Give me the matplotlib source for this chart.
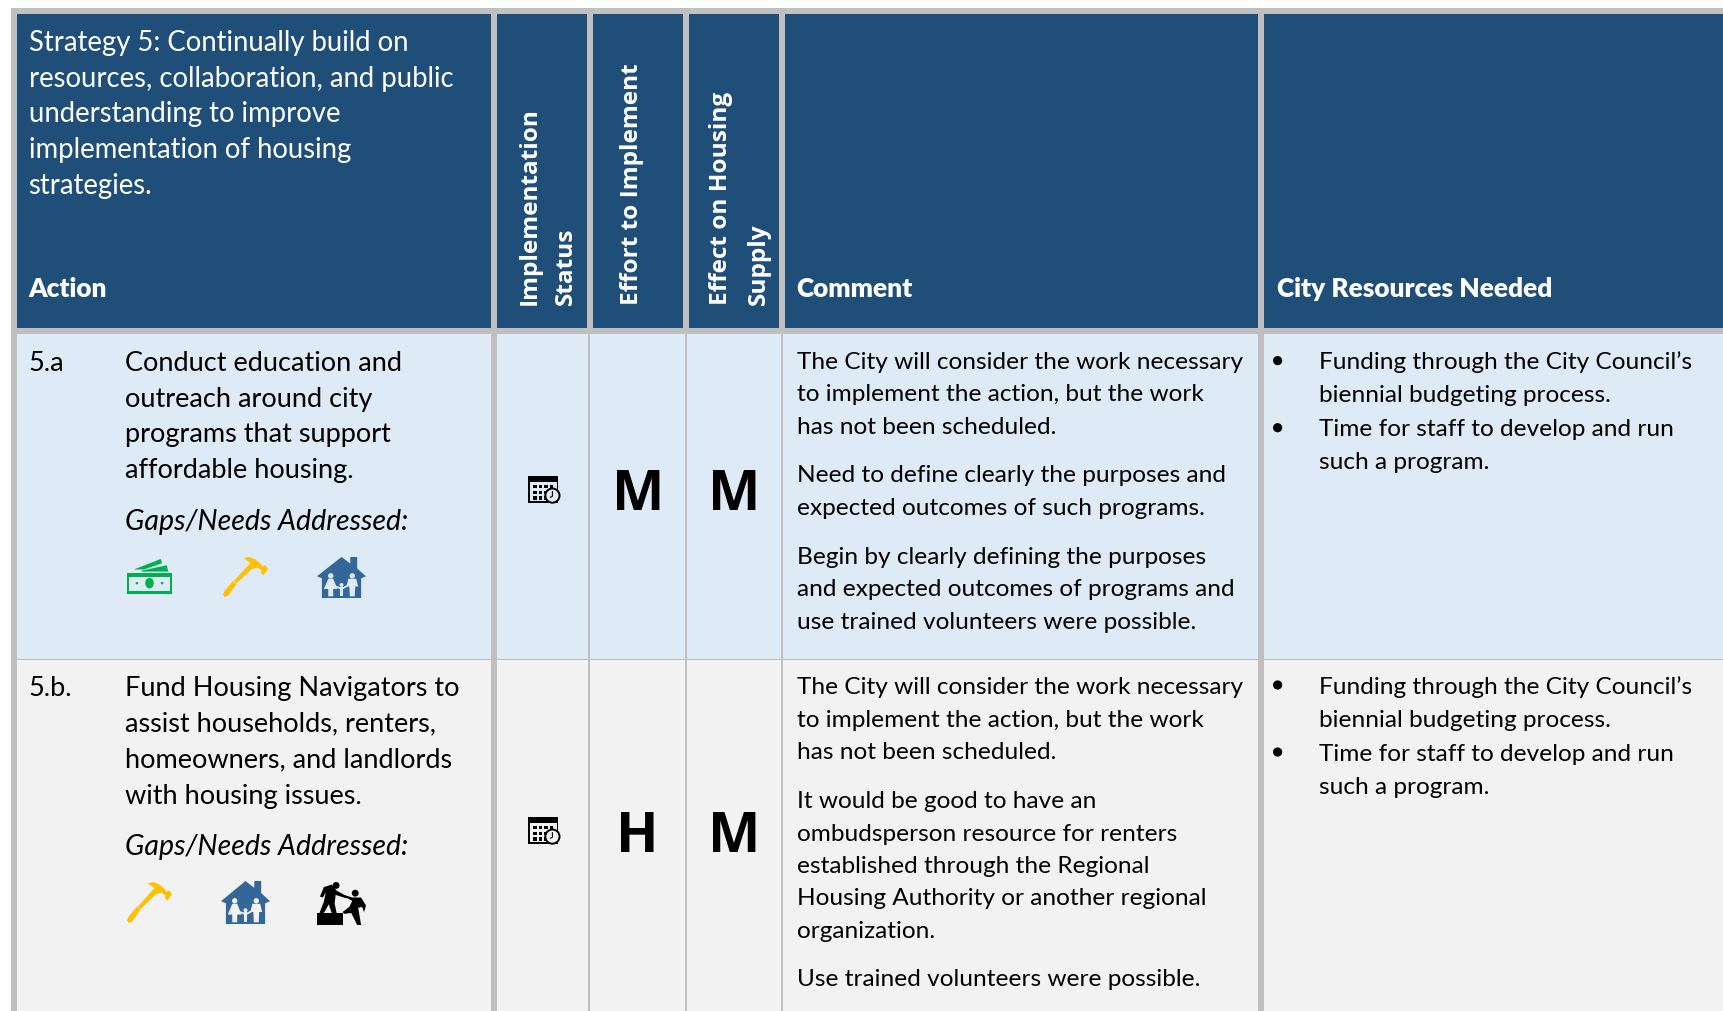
import matplotlib
matplotlib.use("Agg")
import matplotlib.pyplot as plt
from matplotlib.patches import Rectangle, Polygon, Circle, Ellipse

# ---- content ----
strategy_lines = ["Strategy 5: Continually build on", "resources, collaboration, and public",
                  "understanding to improve", "implementation of housing", "strategies."]
col_headers = ["Action", "Comment", "City Resources Needed"]
rot_headers = [("Implementation", 482), ("Status", 515), ("Effort to Implement", 575),
               ("Effect on Housing", 656), ("Supply", 690)]
row_ids = ["5.a", "5.b."]
actions = [["Conduct education and", "outreach around city", "programs that support", "affordable housing."],
           ["Fund Housing Navigators to", "assist households, renters,", "homeowners, and landlords", "with housing issues."]]
action_base = [[337, 370, 402, 435], [633, 665, 698, 731]]
gaps_label = "Gaps/Needs Addressed:"
gaps_base = [482, 778]
effort = ["M", "H"]
effect = ["M", "M"]
rating_base = [464, 775]
comments = [[("The City will consider the work necessary", 336), ("to implement the action, but the work", 365),
             ("has not been scheduled.", 395), ("Need to define clearly the purposes and", 438),
             ("expected outcomes of such programs.", 468), ("Begin by clearly defining the purposes", 513),
             ("and expected outcomes of programs and", 542), ("use trained volunteers were possible.", 572)],
            [("The City will consider the work necessary", 631), ("to implement the action, but the work", 661),
             ("has not been scheduled.", 690), ("It would be good to have an", 735),
             ("ombudsperson resource for renters", 765), ("established through the Regional", 794),
             ("Housing Authority or another regional", 823), ("organization.", 853),
             ("Use trained volunteers were possible.", 897)]]
resources = ["Funding through the City Council\u2019s", "biennial budgeting process.",
             "Time for staff to develop and run", "such a program."]
res_base = [[336, 366, 397, 427], [631, 661, 692, 722]]

# ---- palette ----
NAVY, GREY = "#1F4E79", "#BFBFBF"
ROW1, ROW2 = "#DEEAF6", "#F2F2F2"
HOUSE, GREEN, GOLD = "#336699", "#00B050", "#FFC000"
S = 1724 / 1568
BODY = "Lato"

fig = plt.figure(figsize=(17.24, 10.11), dpi=100, facecolor="white")
ax = fig.add_axes([0, 0, 1, 1])
ax.set_xlim(0, 1724); ax.set_ylim(1011, 0); ax.axis("off")

def rect(x0, y0, x1, y1, c, z=1):
    ax.add_patch(Rectangle((x0, y0), x1 - x0, y1 - y0, fc=c, ec="none", lw=0, zorder=z))

def txt(x, y, s, size, color="black", **k):
    k.setdefault("family", BODY)
    ax.text(x * S, y * S, s, fontsize=size, color=color, va=k.pop("va", "baseline"),
            ha=k.pop("ha", "left"), zorder=5, **k)

# grid
rect(11, 8, 1724, 1011, GREY)
for a, b in [(17, 491), (497, 587), (593, 683), (689, 779), (785, 1258), (1264, 1724)]:
    rect(a, 14, b, 328, NAVY, 2)
for a, b in [(17, 491), (497, 1258), (1264, 1724)]:
    rect(a, 334, b, 659, ROW1, 2)
    rect(a, 660, b, 1011, ROW2, 2)
for x in (589, 686, 782):
    rect(x - 0.8, 334, x + 0.8, 1011, GREY, 3)

# header text
for s, b in zip(strategy_lines, [46, 79, 111, 144, 176]):
    txt(26, b, s, 19.85, "white")
for s, x in zip(col_headers, [26, 724.5, 1161.5]):
    txt(x, 270, s, 18.9, "white", weight="heavy")
for s, x in rot_headers:
    ax.text(x * S, 277.5 * S, s, fontsize=17.6, color="white", family="Open Sans", weight="bold",
            rotation=90, ha="center", va="bottom", zorder=5)

# body text
for i in range(2):
    txt(26, action_base[i][0], row_ids[i], 19.5)
    for s, b in zip(actions[i], action_base[i]):
        txt(114, b, s, 19.5)
    txt(114, gaps_base[i], gaps_label, 20.5, style="italic")
    for s, b in comments[i]:
        txt(725, b, s, 17.6)
    for s, b in zip(resources, res_base[i]):
        txt(1200, b, s, 17.6)
    for b in (res_base[i][0] - 8, res_base[i][2] - 8):
        ax.add_patch(Circle((1162 * S, b * S), 4.6, fc="black", ec="none", zorder=5))
    txt(580, rating_base[i], effort[i], 40, family="Open Sans", weight="bold", ha="center")
    txt(667.5, rating_base[i], effect[i], 40, family="Open Sans", weight="bold", ha="center")

# icons, each placed by its box in pixels
def poly(pts, c, z=6, box=None):
    x0, y0, x1, y1 = box
    ax.add_patch(Polygon([(x0 + p * (x1 - x0), y0 + q * (y1 - y0)) for p, q in pts],
                         closed=True, fc=c, ec="none", zorder=z))

def money(box):
    x0, y0, x1, y1 = box
    w, h = x1 - x0, y1 - y0
    poly([(.15, .30), (.75, 0), (.78, .12), (.38, .30)], GREEN, box=box)
    poly([(.33, .33), (.88, .18), (.92, .36), (.33, .36)], GREEN, box=box)
    rect(x0, y0 + .40 * h, x1, y1, GREEN, 6)
    rect(x0 + .05 * w, y0 + .50 * h, x1 - .05 * w, y1 - .10 * h, ROW1, 7)
    ax.add_patch(Ellipse((x0 + .5 * w, y0 + .69 * h), .19 * w, .30 * h, fc=GREEN, ec="none", zorder=8))
    for f in (.22, .78):
        ax.add_patch(Circle((x0 + f * w, y0 + .69 * h), 1.3, fc=GREEN, ec="none", zorder=8))

def hammer(box):
    poly([(.62, .14), (.70, .24), (.30, .66), (.24, .60)], GOLD, box=box)
    poly([(.22, .60), (.30, .68), (.12, .96), (.04, 1.0), (0, .94), (.04, .84)], GOLD, box=box)
    poly([(.46, .03), (.58, 0), (.72, .06), (.84, .18), (.88, .24), (.94, .20), (1, .30), (.90, .45), (.84, .40),
          (.86, .33), (.76, .26), (.66, .30), (.60, .14)], GOLD, box=box)

def house(box, bg):
    x0, y0, x1, y1 = box
    w, h = x1 - x0, y1 - y0
    poly([(.68, .0), (.82, .0), (.82, .28), (1.0, .47), (.90, .52), (.90, 1.0), (.10, 1.0), (.10, .52),
          (0, .47), (.5, 0), (.68, .16)], HOUSE, box=box)
    for f, r, top in ((.28, .055, .46), (.72, .055, .46), (.50, .04, .68)):
        ax.add_patch(Circle((x0 + f * w, y0 + top * h), r * w, fc=bg, ec="none", zorder=7))
    poly([(.23, .53), (.33, .53), (.42, .78), (.33, .78), (.33, .96), (.23, .96), (.23, .78), (.14, .78)], bg, 7, box)
    poly([(.64, .53), (.80, .53), (.84, .72), (.78, .72), (.77, .96), (.67, .96), (.66, .72), (.60, .72)], bg, 7, box)
    poly([(.46, .73), (.54, .73), (.54, .96), (.46, .96)], bg, 7, box)
    poly([(.38, .70), (.46, .73), (.54, .73), (.62, .68), (.63, .72), (.54, .78), (.46, .78), (.37, .73)], bg, 7, box)

def calendar(box, bg):
    x0, y0, x1, y1 = box
    w, h = x1 - x0, y1 - y0
    rect(x0, y0, x0 + .92 * w, y1 - .05 * h, "black", 6)
    rect(x0 + .05 * w, y0 + .22 * h, x0 + .87 * w, y1 - .10 * h, bg, 7)
    for r in (.32, .52, .72):
        for c in (.16, .33, .50, .67):
            if not (r > .4 and c > .6):
                rect(x0 + c * w, y0 + r * h, x0 + (c + .1) * w, y0 + (r + .12) * h, "black", 8)
    ax.add_patch(Circle((x0 + .74 * w, y0 + .70 * h), .215 * w, fc=bg, ec="black", lw=1.4, zorder=9))
    ax.plot([x0 + .74 * w, x0 + .74 * w, x0 + .68 * w], [y0 + .56 * h, y0 + .72 * h, y0 + .76 * h],
            color="black", lw=.8, zorder=10)

def climbers(box):
    x0, y0, x1, y1 = box
    w, h = x1 - x0, y1 - y0
    rect(x0, y0 + .72 * h, x0 + .53 * w, y1, "black", 6)
    ax.add_patch(Circle((x0 + .39 * w, y0 + .08 * h), .07 * w, fc="black", ec="none", zorder=6))
    ax.add_patch(Circle((x0 + .78 * w, y0 + .26 * h), .07 * w, fc="black", ec="none", zorder=6))
    poly([(.14, .12), (.30, .06), (.40, .20), (.62, .34), (.60, .38), (.38, .30), (.36, .50), (.40, .72), (.30, .72),
          (.24, .52), (.14, .72), (.05, .72), (.14, .46), (.18, .24), (.12, .36), (.06, .34)], "black", box=box)
    poly([(.55, .30), (.72, .36), (.90, .36), (1.0, .55), (.96, .70), (.92, .58), (.84, .60), (.90, 1.0), (.82, 1.0),
          (.70, .72), (.56, .74), (.52, .70), (.66, .58), (.72, .44), (.56, .34)], "black", box=box)

hammer((223, 557, 268, 597))
money((127, 559, 172, 594))
house((317, 557, 366, 598), ROW1)
calendar((528, 476, 561, 504), ROW1)
hammer((127, 882, 172, 923))
house((221, 881, 270, 924), ROW2)
climbers((317, 882, 366, 925))
calendar((528, 817, 561, 845), ROW2)

fig.savefig("out.png", dpi=100, facecolor="white")
